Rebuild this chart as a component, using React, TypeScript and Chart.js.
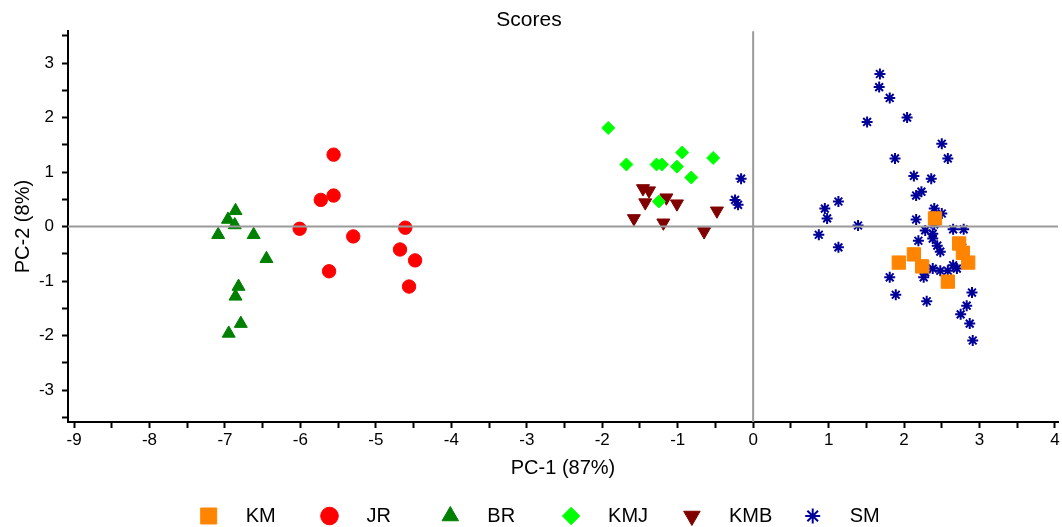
import React, { useEffect, useRef } from 'react';
import { Chart, registerables } from 'chart.js';
import { drawPoint } from 'chart.js/helpers';

Chart.register(...registerables);

// ---- Data ----
const SERIES_NAMES = ['KM', 'JR', 'BR', 'KMJ', 'KMB', 'SM'];

const KM_X = [2.41, 2.73, 2.78, 2.85, 1.93, 2.13, 2.24, 2.58];
const KM_Y = [0.15, -0.31, -0.48, -0.66, -0.66, -0.51, -0.73, -1.01];

const JR_X = [-5.56, -5.56, -5.73, -6.01, -5.30, -4.61, -4.68, -4.48, -5.62, -4.56];
const JR_Y = [1.32, 0.57, 0.49, -0.04, -0.18, -0.02, -0.42, -0.62, -0.82, -1.10];

const BR_X = [-6.86, -6.96, -6.87, -7.09, -6.62, -6.45, -6.82, -6.86, -6.79, -6.95];
const BR_Y = [0.29, 0.13, 0.03, -0.15, -0.15, -0.59, -1.10, -1.28, -1.78, -1.96];

const KMJ_X = [-1.92, -1.68, -1.28, -1.21, -0.94, -1.01, -0.82, -0.53, -1.25];
const KMJ_Y = [1.81, 1.14, 1.14, 1.14, 1.36, 1.10, 0.90, 1.26, 0.46];

const KMB_X = [-1.46, -1.38, -1.43, -1.15, -1.01, -1.58, -1.19, -0.48, -0.65];
const KMB_Y = [0.70, 0.66, 0.44, 0.53, 0.42, 0.15, 0.07, 0.29, -0.09];

const SM_X = [
  -0.16, -0.24, -0.2, 1.68, 1.67, 1.81, 1.51, 2.04, 2.5, 2.58, 1.88, 2.13, 2.36,
  2.23, 2.16, 0.95, 1.13, 0.98, 0.87, 1.13, 1.39, 2.4, 2.5, 2.4, 2.16, 2.28, 2.38,
  2.38, 2.44, 2.48, 2.19, 2.13, 2.25, 2.28, 2.26, 2.38, 2.48, 2.58, 2.65, 2.7,
  2.65, 2.79, 2.77, 1.81, 1.89, 2.3, 2.9, 2.83, 2.75, 2.87, 2.91,
];
const SM_Y = [
  0.88, 0.49, 0.4, 2.8, 2.56, 2.36, 1.92, 2.0, 1.52, 1.25, 1.25, 0.93, 0.88, 0.64,
  0.57, 0.33, 0.46, 0.15, -0.15, -0.38, 0.02, 0.33, 0.24, 0.04, 0.13, -0.07, -0.13,
  -0.22, -0.35, -0.46, -0.26, -0.51, -0.71, -0.84, -0.93, -0.77, -0.81, -0.81,
  -0.71, -0.77, -0.05, -0.05, -0.38, -0.93, -1.25, -1.37, -1.21, -1.45, -1.61,
  -1.78, -2.09,
];

const X_MIN = -9.08;
const X_MAX = 4.04;
const Y_MIN = -3.585;
const Y_MAX = 3.585;

const TITLE = 'Scores';
const X_TITLE = 'PC-1 (87%)';
const Y_TITLE = 'PC-2 (8%)';

// ---- Styles ----
const FONT = "'Liberation Sans', Arial, sans-serif";
const COLORS = ['#ff8400', '#ff0000', '#008000', '#00ff00', '#800000', '#000099'];
const STYLES = ['rect', 'circle', 'triangle', 'rectRot', 'triangle', 'star'];
const ROTATIONS = [0, 0, 0, 0, 180, 0];
const RADII = [9.4, 6.7, 7.5, 6.5, 7.5, 5.5];
const LEGEND_RADII = [11.3, 8.8, 9.5, 8.7, 9.5, 7.5];

const toPoints = (xs: number[], ys: number[]) => xs.map((x, i) => ({ x, y: ys[i] }));

const SERIES = [
  toPoints(KM_X, KM_Y),
  toPoints(JR_X, JR_Y),
  toPoints(BR_X, BR_Y),
  toPoints(KMJ_X, KMJ_Y),
  toPoints(KMB_X, KMB_Y),
  toPoints(SM_X, SM_Y),
];

const zeroLines = {
  id: 'zeroLines',
  afterDatasetsDraw(chart: any) {
    const { ctx, chartArea, scales } = chart;
    const x0 = scales.x.getPixelForValue(0);
    const y0 = scales.y.getPixelForValue(0);
    ctx.save();
    ctx.strokeStyle = '#9a9a9a';
    ctx.lineWidth = 2;
    ctx.beginPath();
    ctx.moveTo(x0, chartArea.top);
    ctx.lineTo(x0, chartArea.bottom);
    ctx.moveTo(chartArea.left, y0);
    ctx.lineTo(chartArea.right, y0);
    ctx.stroke();
    ctx.restore();
  },
};

const customLegend = {
  id: 'customLegend',
  afterDraw(chart: any) {
    const ctx = chart.ctx;
    const startX = 208.7;
    const step = 120.8;
    const y = 516;
    ctx.save();
    chart.data.datasets.forEach((ds: any, i: number) => {
      const cx = startX + i * step;
      ctx.fillStyle = COLORS[i];
      ctx.strokeStyle = COLORS[i];
      ctx.lineWidth = STYLES[i] === 'star' ? 2 : 1;
      drawPoint(ctx, { pointStyle: STYLES[i], rotation: ROTATIONS[i], radius: LEGEND_RADII[i], borderWidth: ctx.lineWidth } as any, cx, y);
      ctx.fillStyle = '#000';
      ctx.font = `20px ${FONT}`;
      ctx.textAlign = 'left';
      ctx.textBaseline = 'middle';
      ctx.fillText(ds.label, cx + 37, y);
    });
    ctx.restore();
  },
};

const intLabel = (v: any) => (Math.abs(v - Math.round(v)) < 1e-6 ? String(Math.round(v)) : '');

export default function App() {
  const ref = useRef<HTMLCanvasElement>(null);
  useEffect(() => {
    if (!ref.current) return;
    const chart = new Chart(ref.current, {
      type: 'scatter',
      data: {
        datasets: SERIES.map((pts, i) => ({
          label: SERIES_NAMES[i],
          data: pts,
          pointStyle: STYLES[i] as any,
          pointRotation: ROTATIONS[i],
          pointRadius: RADII[i],
          pointHoverRadius: RADII[i],
          backgroundColor: COLORS[i],
          borderColor: COLORS[i],
          borderWidth: STYLES[i] === 'star' ? 2 : 1,
        })),
      },
      options: {
        responsive: false,
        animation: false,
        events: [],
        layout: { autoPadding: false, padding: { left: 0, right: 4, top: 0, bottom: 44 } },
        plugins: {
          legend: { display: false },
          tooltip: { enabled: false },
          title: {
            display: true,
            text: TITLE,
            color: '#000',
            font: { family: FONT, size: 21, weight: 'normal' },
            padding: { top: 8, bottom: -2 },
          },
        },
        scales: {
          x: {
            type: 'linear',
            min: X_MIN,
            max: X_MAX,
            afterFit: (scale: any) => {
              scale.height = 61;
              scale.paddingLeft = 0;
              scale.paddingRight = 0;
            },
            border: { display: true, color: '#000', width: 2 },
            grid: {
              drawOnChartArea: false,
              drawTicks: true,
              tickLength: 6,
              tickWidth: 2,
              tickColor: '#000',
            },
            ticks: {
              stepSize: 0.5,
              includeBounds: false,
              autoSkip: false,
              maxRotation: 0,
              padding: 2,
              color: '#000',
              font: { family: FONT, size: 17 },
              callback: intLabel,
            },
            title: {
              display: true,
              text: X_TITLE,
              color: '#000',
              font: { family: FONT, size: 20 },
              padding: { top: 0, bottom: 3 },
            },
          },
          y: {
            type: 'linear',
            min: Y_MIN,
            max: Y_MAX,
            afterFit: (scale: any) => {
              scale.width = 68;
              scale.paddingTop = 0;
              scale.paddingBottom = 0;
            },
            border: { display: true, color: '#000', width: 2 },
            grid: {
              drawOnChartArea: false,
              drawTicks: true,
              tickLength: 6,
              tickWidth: 2,
              tickColor: '#000',
            },
            ticks: {
              stepSize: 0.5,
              includeBounds: false,
              autoSkip: false,
              padding: 8,
              color: '#000',
              font: { family: FONT, size: 17 },
              callback: intLabel,
            },
            title: {
              display: true,
              text: Y_TITLE,
              color: '#000',
              font: { family: FONT, size: 20 },
              padding: { top: 11, bottom: 0 },
            },
          },
        },
      } as any,
      plugins: [zeroLines, customLegend],
    });
    return () => chart.destroy();
  }, []);
  return (
    <div style={{ position: 'fixed', left: 0, top: 0, width: 1062, height: 527, background: '#fff' }}>
      <canvas ref={ref} width={1062} height={527} style={{ width: 1062, height: 527, display: 'block' }} />
    </div>
  );
}
